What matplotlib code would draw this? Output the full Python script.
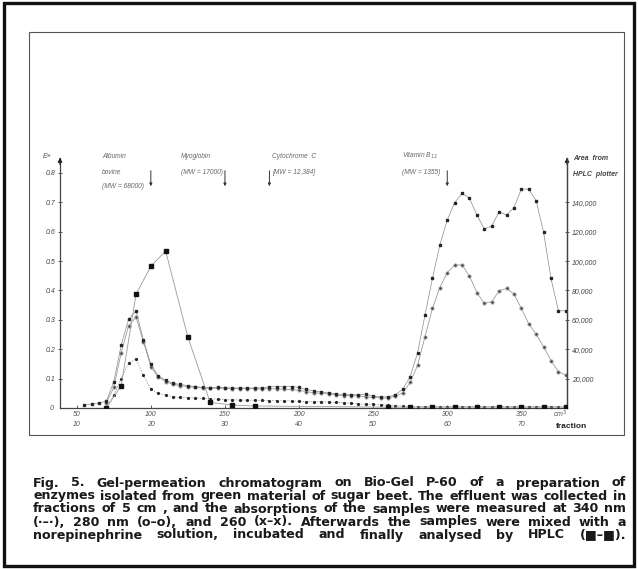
import numpy as np
import matplotlib.pyplot as plt
from matplotlib.patches import Rectangle
from matplotlib.transforms import blended_transform_factory

# ---------------------------------------------------------------
# data (effluent volume in cm3, extinction / HPLC area)
# ---------------------------------------------------------------
vol_260 = list(range(55, 385, 5))
ext_260 = [0.010, 0.014, 0.017, 0.023, 0.090, 0.214, 0.303, 0.330, 0.231, 0.149,
           0.109, 0.095, 0.084, 0.080, 0.076, 0.073, 0.070, 0.069, 0.070, 0.069,
           0.068, 0.068, 0.068, 0.068, 0.069, 0.072, 0.073, 0.073, 0.073, 0.070,
           0.063, 0.058, 0.055, 0.052, 0.048, 0.046, 0.045, 0.045, 0.047, 0.040,
           0.038, 0.038, 0.045, 0.064, 0.107, 0.188, 0.317, 0.441, 0.555, 0.640,
           0.699, 0.731, 0.714, 0.657, 0.609, 0.620, 0.668, 0.657, 0.682, 0.745,
           0.745, 0.705, 0.598, 0.441, 0.331, 0.331]

vol_280 = list(range(70, 385, 5))
ext_280 = [0.018, 0.070, 0.188, 0.280, 0.309, 0.226, 0.140, 0.105, 0.090, 0.080,
           0.076, 0.073, 0.070, 0.068, 0.067, 0.068, 0.067, 0.066, 0.066, 0.066,
           0.066, 0.065, 0.066, 0.065, 0.064, 0.063, 0.060, 0.056, 0.052, 0.050,
           0.048, 0.044, 0.042, 0.042, 0.042, 0.038, 0.036, 0.034, 0.034, 0.040,
           0.052, 0.087, 0.146, 0.243, 0.339, 0.410, 0.461, 0.487, 0.487, 0.449,
           0.393, 0.356, 0.362, 0.399, 0.407, 0.388, 0.339, 0.286, 0.251, 0.209,
           0.161, 0.124, 0.112]

vol_340 = list(range(70, 385, 5))
ext_340 = [0.004, 0.044, 0.100, 0.154, 0.166, 0.112, 0.064, 0.050, 0.044, 0.038,
           0.036, 0.035, 0.034, 0.033, 0.031, 0.030, 0.028, 0.028, 0.027, 0.027,
           0.026, 0.026, 0.025, 0.025, 0.024, 0.024, 0.023, 0.022, 0.022, 0.021,
           0.020, 0.019, 0.018, 0.016, 0.014, 0.013, 0.012, 0.011, 0.010, 0.008,
           0.006, 0.005, 0.005, 0.005, 0.005, 0.005, 0.005, 0.005, 0.005, 0.005,
           0.005, 0.005, 0.005, 0.005, 0.005, 0.005, 0.005, 0.005, 0.005, 0.005,
           0.005, 0.005, 0.005]

vol_hplc = [70, 80, 90, 100, 110, 125, 140, 155, 170,
            260, 275, 290, 305, 320, 335, 350, 365, 380]
area_hplc = [0, 15200, 77400, 96600, 106800, 48200, 3800, 2000, 1400,
             600, 600, 600, 600, 600, 600, 600, 600, 600]

y_ticks = [0.1, 0.2, 0.3, 0.4, 0.5, 0.6, 0.7, 0.8]
area_ticks = [20000, 40000, 60000, 80000, 100000, 120000, 140000]
vol_ticks = [50, 100, 150, 200, 250, 300, 350]
frac_ticks = [10, 20, 30, 40, 50, 60, 70]

markers_mw = [
    (100, ["Albumin", "bovine", "(MW = 68000)"]),
    (150, ["Myoglobin", "(MW = 17000)"]),
    (180, ["Cytochrome  C", "[MW = 12,384]"]),
    (300, ["Vitamin B$_{12}$", "(MW = 1355)"]),
]

caption = [
    "Fig. 5. Gel-permeation chromatogram on Bio-Gel P-60 of a preparation of",
    "enzymes isolated from green material of sugar beet. The effluent was collected in",
    "fractions of 5 cm , and the absorptions of the samples were measured at 340 nm",
    "(·–·), 280 nm (o–o), and 260 (x–x). Afterwards the samples were mixed with a",
    "norepinephrine solution, incubated and finally analysed by HPLC (■–■).",
]

# ---------------------------------------------------------------
W, H = 638, 569
fig = plt.figure(figsize=(W / 100, H / 100), dpi=100)
fig.patch.set_facecolor("white")
plt.rcParams["font.family"] = ["Liberation Sans", "DejaVu Sans"]

def fx(px):
    return px / W

def fy(py):
    return 1 - py / H

# frames
fig.patches.append(Rectangle((fx(4), fy(566)), fx(630), 563 / H, transform=fig.transFigure,
                             fill=False, lw=2.4, ec="#111111"))
fig.patches.append(Rectangle((fx(29), fy(435)), fx(595), 403 / H, transform=fig.transFigure,
                             fill=False, lw=0.8, ec="#555555"))

ax_l, ax_r, ax_b, ax_t = 60, 567, 408, 158.3
ax = fig.add_axes([fx(ax_l), fy(ax_b), fx(ax_r - ax_l), (ax_b - ax_t) / H])
ax.set_xlim(38.7, 380.8)
ax.set_ylim(0, 0.85)
ax.set_facecolor("none")
ax.spines["top"].set_visible(False)
for s in ["left", "right", "bottom"]:
    ax.spines[s].set_color("#444444")
    ax.spines[s].set_linewidth(0.9)

line_c = "#8a8a8a"
mk_c = "#262626"
ax.plot(vol_340, ext_340, color=line_c, lw=0.5, ls=(0, (2, 2)), marker="o", ms=1.3,
        mfc=mk_c, mec=mk_c, zorder=3)
ax.plot(vol_280, ext_280, color=line_c, lw=0.5, marker="o", ms=2.4,
        mfc="#444444", mec="#aaaaaa", mew=0.6, zorder=4)
ax.plot(vol_260, ext_260, color=line_c, lw=0.5, marker="s", ms=2.0,
        mfc=mk_c, mec=mk_c, zorder=4)

ax2 = ax.twinx()
ax2.set_ylim(0, 0.85 * 200000)
ax2.set_facecolor("none")
for s in ["top", "left", "bottom"]:
    ax2.spines[s].set_visible(False)
ax2.spines["right"].set_color("#444444")
ax2.spines["right"].set_linewidth(0.9)
ax2.plot(vol_hplc, area_hplc, color="#999999", lw=0.6, marker="s", ms=3.4,
         mfc="#111111", mec="#111111", zorder=5)

# ticks
tick_kw = dict(fontsize=5, color="#555555", style="italic")
ax.set_yticks(y_ticks)
ax.set_yticklabels([f"{v:.1f}" for v in y_ticks], **tick_kw)
ax.tick_params(axis="y", direction="inout", length=3, width=0.6, colors="#444444", pad=2)
ax.text(-0.012, 0, "0", transform=ax.transAxes, ha="right", va="center", **tick_kw)
ax2.set_yticks(area_ticks)
ax2.set_yticklabels([f"{v:,}" for v in area_ticks], **tick_kw)
ax2.tick_params(axis="y", direction="inout", length=3, width=0.6, colors="#444444", pad=2)

ax.set_xticks(vol_ticks)
ax.set_xticklabels([])
ax.tick_params(axis="x", direction="in", length=2, width=0.6, colors="#444444")
tr = blended_transform_factory(ax.transData, fig.transFigure)
for v, f in zip(vol_ticks, frac_ticks):
    ax.text(v, fy(415), str(v), transform=tr, ha="center", va="center", **tick_kw)
    ax.text(v, fy(425), str(f), transform=tr, ha="center", va="center", **tick_kw)
ax.text(376, fy(414), "cm$^3$", transform=tr, ha="center", va="center", **tick_kw)
ax.text(373, fy(426), "fraction", transform=tr, ha="left", va="center",
        fontsize=6, fontweight="bold", color="#222222")

# axis arrows and labels
for xv in [38.7, 380.8]:
    ax.annotate("", xy=(xv, 0.862), xytext=(xv, 0.82), xycoords="data",
                arrowprops=dict(arrowstyle="-|>", color="#222222", lw=0.9,
                                mutation_scale=6), annotation_clip=False)
fig.text(fx(47), fy(156), "E×", ha="center", va="center",
         fontsize=5, style="italic", color="#555555")
fig.text(fx(573), fy(159), "Area  from", ha="left", va="center", fontsize=5,
         style="italic", fontweight="bold", color="#444444")
fig.text(fx(573), fy(174), "HPLC  plotter", ha="left", va="center", fontsize=5,
         style="italic", fontweight="bold", color="#444444")

# molecular weight markers
ann_kw = dict(fontsize=4.8, style="italic", color="#666666", va="center")
arrow_top = (ax_b - 168) / 293.75
arrow_tip = (ax_b - 189) / 293.75
for xv, lines in markers_mw:
    ax.annotate("", xy=(xv, arrow_tip), xytext=(xv, arrow_top),
                arrowprops=dict(arrowstyle="-|>", color="#333333", lw=0.7,
                                mutation_scale=4), annotation_clip=False)
for (xv, lines), x0 in zip(markers_mw, [67, 120.4, 181.5, 269.5]):
    ys = [156, 172, 186] if len(lines) == 3 else [156, 172]
    for txt, yp in zip(lines, ys):
        ax.text(x0, fy(yp), txt, transform=tr, ha="left", **ann_kw)

# caption, justified to the block width
fig.canvas.draw()
ren = fig.canvas.get_renderer()
x_left, x_right = 33, 626
cap_kw = dict(family=["DejaVu Sans"], fontweight="bold", color="#1a1a1a",
              va="center", ha="left")
probe = fig.text(0, 0, caption[1], fontsize=9, **cap_kw)
cap_size = 9 * 586 / probe.get_window_extent(ren).width
probe.remove()
for line, yp in zip(caption, [483, 496, 509, 522, 535]):
    words = line.split(" ")
    objs = [fig.text(0, fy(yp), w, fontsize=cap_size, **cap_kw) for w in words]
    widths = [o.get_window_extent(ren).width for o in objs]
    gap = (x_right - x_left - sum(widths)) / (len(words) - 1)
    xp = x_left
    for o, w in zip(objs, widths):
        o.set_x(fx(xp))
        xp += w + gap

fig.savefig("out.png", dpi=100, facecolor="white")
